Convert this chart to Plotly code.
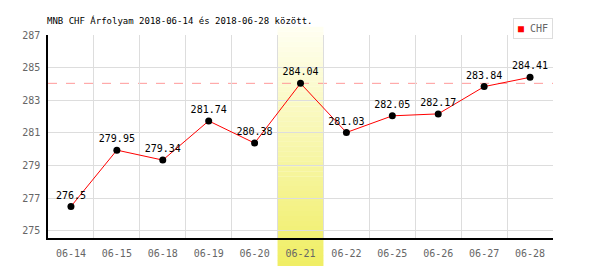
import plotly.graph_objects as go

dates = ["06-14", "06-15", "06-18", "06-19", "06-20", "06-21", "06-22", "06-25", "06-26", "06-27", "06-28"]
values = [276.5, 279.95, 279.34, 281.74, 280.38, 284.04, 281.03, 282.05, 282.17, 283.84, 284.41]
labels = ["276.5", "279.95", "279.34", "281.74", "280.38", "284.04", "281.03", "282.05", "282.17", "283.84", "284.41"]
highlight_index = 5
y_ticks = [275, 277, 279, 281, 283, 285, 287]
title_text = "MNB CHF Árfolyam 2018-06-14 és 2018-06-28 között."
series_name = "CHF"

FONT = "DejaVu Sans Mono"
xs = list(range(len(dates)))

fig = go.Figure()
fig.add_trace(go.Scatter(
    x=xs, y=values, mode="lines+markers+text",
    text=labels, textposition="top center",
    textfont=dict(family=FONT, size=10, color="#000"),
    line=dict(color="red", width=1),
    marker=dict(color="#000", size=7),
    showlegend=False, hoverinfo="skip", cliponaxis=False,
))

shapes = []
n = 48
y_top, y_bot = 1.04, -0.138
c_top = (255, 255, 242)
c_bot = (240, 238, 100)
for i in range(n):
    t = (i + 0.5) / n
    r = round(c_top[0] + (c_bot[0] - c_top[0]) * t)
    g = round(c_top[1] + (c_bot[1] - c_top[1]) * t)
    b = round(c_top[2] + (c_bot[2] - c_top[2]) * t)
    y0 = y_top + (y_bot - y_top) * i / n
    y1 = y_top + (y_bot - y_top) * (i + 1) / n
    shapes.append(dict(type="rect", xref="x", yref="paper",
                       x0=highlight_index - 0.5, x1=highlight_index + 0.5,
                       y0=y1, y1=y0 + 0.001, line=dict(width=0),
                       fillcolor=f"rgb({r},{g},{b})", layer="below"))
shapes.append(dict(type="line", xref="paper", yref="y", x0=0, x1=1,
                   y0=values[highlight_index], y1=values[highlight_index],
                   line=dict(color="#ff9999", width=1, dash="dash"), layer="below"))

fig.update_layout(
    width=600, height=270,
    margin=dict(l=48, r=47, t=35, b=32),
    paper_bgcolor="white", plot_bgcolor="white",
    shapes=shapes,
    annotations=[
        dict(text=title_text, xref="paper", yref="paper", x=-0.005, y=1.0,
             yshift=15, xanchor="left", yanchor="middle", showarrow=False,
             font=dict(family=FONT, size=9, color="#000")),
        dict(text="<span style='color:red'>■</span> " + series_name,
             xref="paper", yref="paper", x=1.0, y=1.0, xanchor="right", yanchor="bottom",
             yshift=-4, showarrow=False, bordercolor="#dddddd", borderwidth=1, borderpad=4,
             bgcolor="white", font=dict(family=FONT, size=10, color="#666")),
    ],
    xaxis=dict(range=[-0.5, len(dates) - 0.5], tickvals=xs, ticktext=dates,
               showgrid=False, zeroline=False,
               showline=True, linecolor="#000", linewidth=1.5,
               ticks="outside", ticklen=5, tickcolor="rgba(0,0,0,0)",
               tickfont=dict(family=FONT, size=10, color="#666"),
               minor=dict(tick0=0.5, dtick=1, showgrid=True, gridcolor="#dddddd", gridwidth=1)),
    yaxis=dict(range=[274.57, 287], tickvals=y_ticks, showgrid=True, gridcolor="#dddddd",
               zeroline=False, showline=True, linecolor="#000", linewidth=1.5,
               ticks="outside", ticklen=4, tickcolor="rgba(0,0,0,0)",
               tickfont=dict(family=FONT, size=10, color="#666")),
    showlegend=False,
)

fig.write_html("out.html")
